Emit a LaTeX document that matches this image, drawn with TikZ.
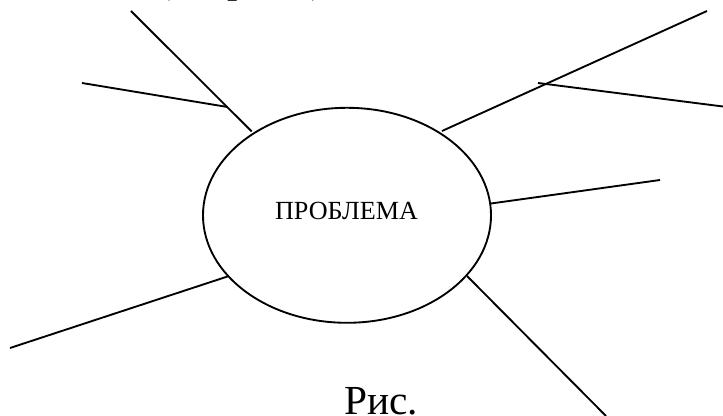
\documentclass[tikz,border=0pt]{standalone}
\usepackage{fontspec}
\setmainfont{Liberation Serif}
\usetikzlibrary{shapes.geometric}
\newlength{\pxu}\setlength{\pxu}{0.75pt}
\tikzset{ray/.style={draw=black,line width=1.4pt},bubble/.style={ellipse,draw=black,line width=1.4pt,minimum width=288\pxu,minimum height=215\pxu,inner sep=0pt},
big/.style={font=\fontsize{31pt}{36pt}\selectfont,anchor=base,inner sep=0pt}}
\begin{document}
\begin{tikzpicture}[x=\pxu,y=-\pxu]
\useasboundingbox (0,0) rectangle (723,416);
\node[bubble] (p) at (347,215.3) {};
\node[font=\fontsize{19.6pt}{22pt}\selectfont,anchor=base,inner sep=0pt] (t) at (346.5,220) {ПРОБЛЕМА};
\node[big] (c) at (381,414.5) {Рис.};
\node[big] (o) at (241,-7) {(теорема)};
\coordinate (a1) at (131,11); \coordinate (a2) at (251.7,131.5);
\coordinate (b1) at (82,83); \coordinate (b2) at (227.5,107);
\coordinate (c1) at (707,11); \coordinate (c2) at (442,131);
\coordinate (d1) at (538,83); \coordinate (d2) at (723,106.5);
\coordinate (e1) at (660,180); \coordinate (e2) at (491,203.5);
\coordinate (f1) at (10,348); \coordinate (f2) at (229,276);
\coordinate (g1) at (467,276); \coordinate (g2) at (606,416);
\draw[ray] (a1)--(a2);
\draw[ray] (b1)--(b2);
\draw[ray] (c1)--(c2);
\draw[ray] (d1)--(d2);
\draw[ray] (e1)--(e2);
\draw[ray] (f1)--(f2);
\draw[ray] (g1)--(g2);
\end{tikzpicture}
\end{document}
